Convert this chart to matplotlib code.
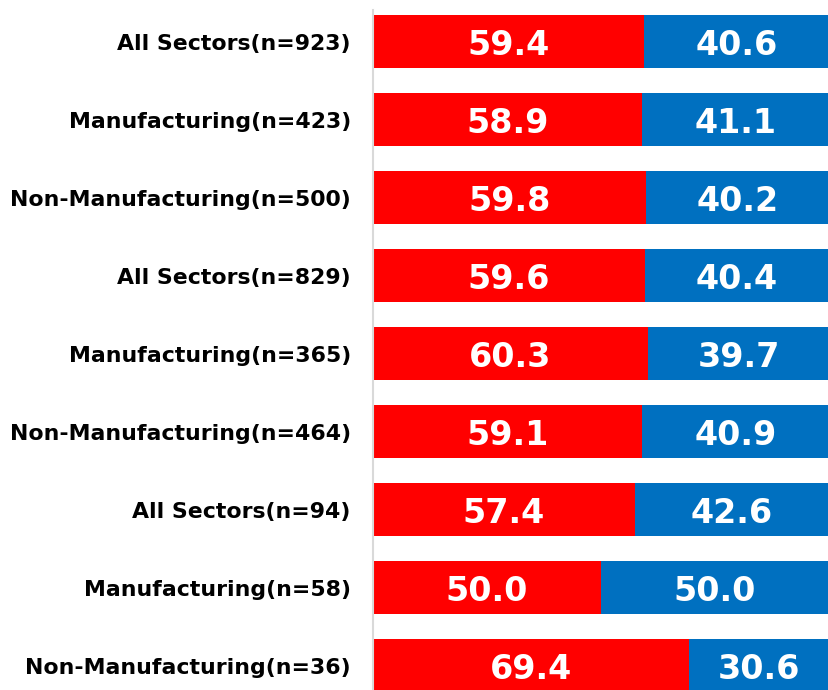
import matplotlib.pyplot as plt

# Categorie e percentuali (rosso / blu)
categories = ['All Sectors(n=923)', 'Manufacturing(n=423)', 'Non-Manufacturing(n=500)',
              'All Sectors(n=829)', 'Manufacturing(n=365)', 'Non-Manufacturing(n=464)',
              'All Sectors(n=94)', 'Manufacturing(n=58)', 'Non-Manufacturing(n=36)']
red_values = [59.4, 58.9, 59.8, 59.6, 60.3, 59.1, 57.4, 50.0, 69.4]
blue_values = [40.6, 41.1, 40.2, 40.4, 39.7, 40.9, 42.6, 50.0, 30.6]

fig = plt.figure(figsize=(8.29, 6.9), dpi=100)
ax = fig.add_axes([373 / 829, 0, 1 - 373 / 829, 680 / 690])

y = list(range(len(categories)))
ax.barh(y, red_values, height=0.68, color='#ff0000')
ax.barh(y, blue_values, left=red_values, height=0.68, color='#0070c0')

# Etichette dei valori al centro di ogni segmento
for i in y:
    ax.text(red_values[i] / 2, i + 0.05, '{:.1f}'.format(red_values[i]), ha='center', va='center',
            color='white', fontsize=24, fontweight='bold')
    ax.text(red_values[i] + blue_values[i] / 2, i + 0.05, '{:.1f}'.format(blue_values[i]), ha='center',
            va='center', color='white', fontsize=24, fontweight='bold')

ax.set_xlim(0, 100)
ax.set_ylim(8.31, -0.41)
ax.set_yticks(y)
ax.set_yticklabels(categories, fontsize=15.8, fontweight='bold')
ax.tick_params(axis='y', length=0, pad=16)
ax.set_xticks([])
for side in ['top', 'right', 'bottom']:
    ax.spines[side].set_visible(False)
ax.spines['left'].set_color('#d9d9d9')
ax.spines['left'].set_linewidth(1.5)

plt.savefig('out.png', dpi=100)
